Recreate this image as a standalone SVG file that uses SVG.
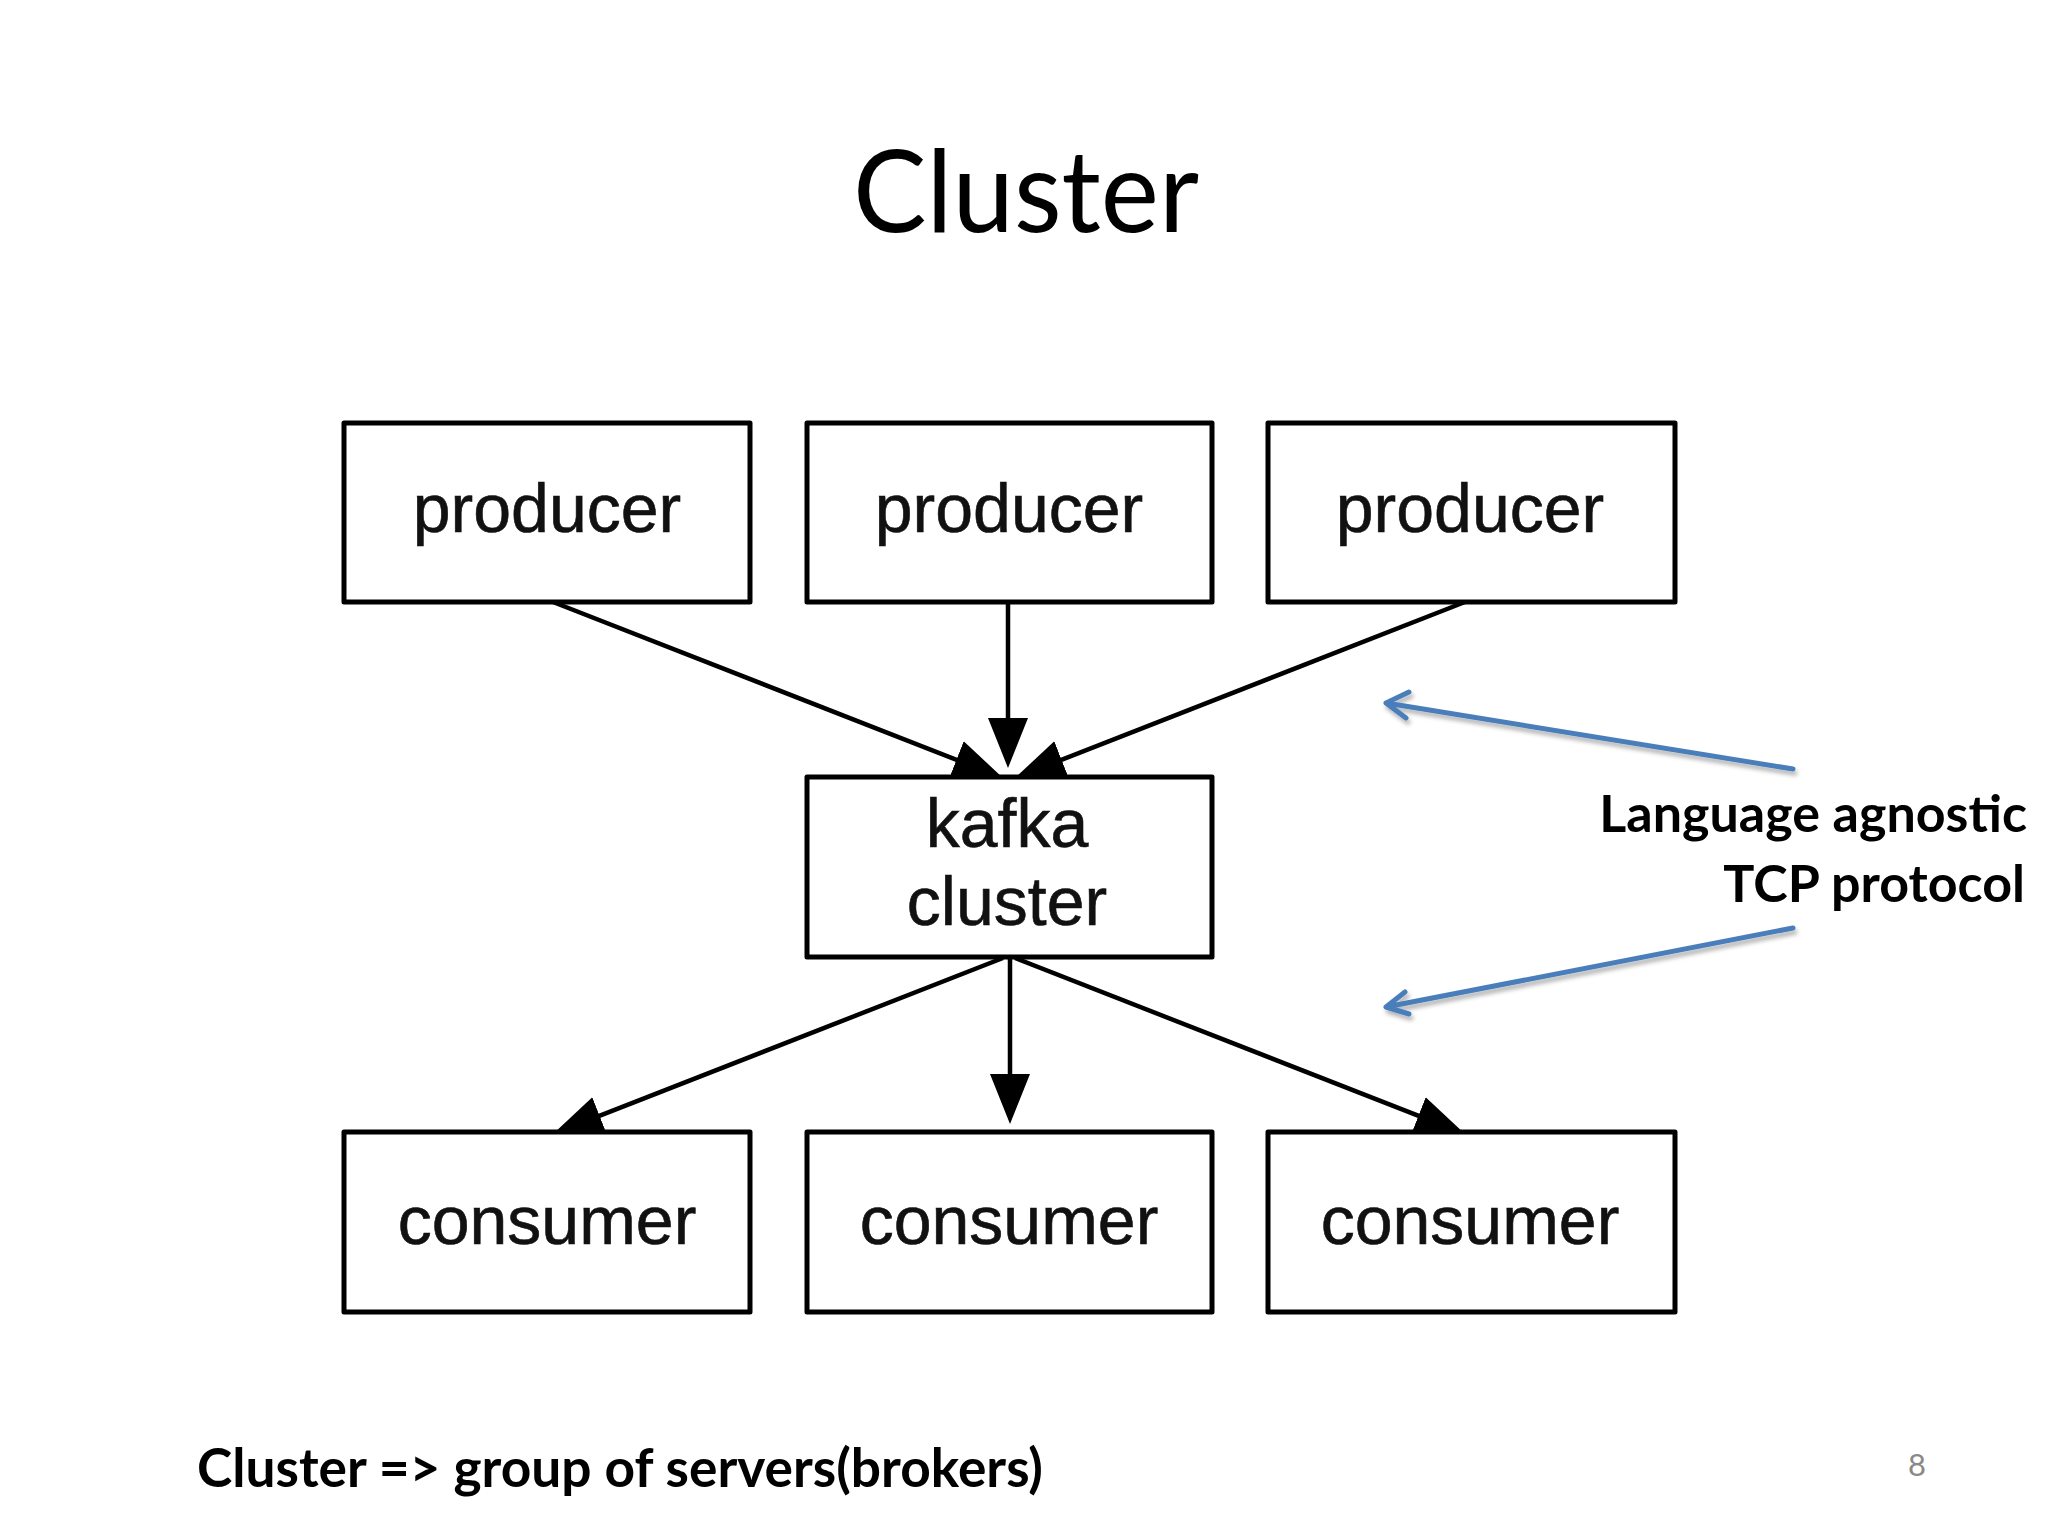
<svg xmlns="http://www.w3.org/2000/svg" width="2048" height="1536" viewBox="0 0 2048 1536">
  <defs>
    <style>
      .box { fill: #ffffff; stroke: #000000; stroke-width: 5; stroke-linejoin: round; }
      .lbl { font-family: "Liberation Sans", Arial, sans-serif; font-size: 68px; fill: #111111; stroke: #111111; stroke-width: 0.6; text-anchor: middle; }
      .conn { stroke: #000000; stroke-width: 4.5; fill: none; marker-end: url(#head); }
      .blue { stroke: #4A7EBB; stroke-width: 5; fill: none; stroke-linecap: round; stroke-linejoin: round; filter: url(#shadow); }
      .cal { font-family: Lato, "Open Sans", "Liberation Sans", sans-serif; fill: #000000; }
    </style>
    <marker id="head" markerUnits="userSpaceOnUse" viewBox="0 0 50 40" markerWidth="50" markerHeight="40" refX="25" refY="20" orient="auto">
      <path d="M0,0 L50,20 L0,40 z" fill="#000000"/>
    </marker>
    <filter id="shadow" x="-10%" y="-50%" width="120%" height="200%">
      <feDropShadow dx="2" dy="4" stdDeviation="2" flood-color="#000000" flood-opacity="0.3"/>
    </filter>
  </defs>
  <rect x="0" y="0" width="2048" height="1536" fill="#ffffff"/>

  <text id="title" class="cal" x="853" y="232" font-size="114" textLength="346" lengthAdjust="spacingAndGlyphs">Cluster</text>

  <g id="connectors">
    <line class="conn" x1="553" y1="602" x2="979.7" y2="768.9"/>
    <line class="conn" x1="1008" y1="602" x2="1008" y2="743"/>
    <line class="conn" x1="1465" y1="602" x2="1038.3" y2="768.9"/>
    <line class="conn" x1="1003" y1="958" x2="576.3" y2="1124.9"/>
    <line class="conn" x1="1010" y1="958" x2="1010" y2="1099"/>
    <line class="conn" x1="1015" y1="958" x2="1441.7" y2="1124.9"/>
  </g>

  <g id="producer1">
    <rect class="box" x="344" y="423" width="406" height="179"/>
    <text class="lbl" x="547" y="532">producer</text>
  </g>
  <g id="producer2">
    <rect class="box" x="807" y="423" width="405" height="179"/>
    <text class="lbl" x="1009" y="532">producer</text>
  </g>
  <g id="producer3">
    <rect class="box" x="1268" y="423" width="407" height="179"/>
    <text class="lbl" x="1470" y="532">producer</text>
  </g>
  <g id="kafka">
    <rect class="box" x="807" y="777" width="405" height="180"/>
    <text class="lbl" x="1007" y="847">kafka</text>
    <text class="lbl" x="1007" y="925">cluster</text>
  </g>
  <g id="consumer1">
    <rect class="box" x="344" y="1132" width="406" height="180"/>
    <text class="lbl" x="547" y="1244">consumer</text>
  </g>
  <g id="consumer2">
    <rect class="box" x="807" y="1132" width="405" height="180"/>
    <text class="lbl" x="1009" y="1244">consumer</text>
  </g>
  <g id="consumer3">
    <rect class="box" x="1268" y="1132" width="407" height="180"/>
    <text class="lbl" x="1470" y="1244">consumer</text>
  </g>

  <g id="annotation-arrows">
    <path class="blue" d="M1793,769 L1386,703 M1409,692 L1386,703 L1406,718"/>
    <path class="blue" d="M1793,928 L1386,1007 M1405,992 L1386,1007 L1409,1014"/>
  </g>

  <g id="annotation">
    <text class="cal" x="2027" y="832" font-size="52" font-weight="bold" text-anchor="end">Language agnostic</text>
    <text class="cal" x="2025" y="902" font-size="52" font-weight="bold" text-anchor="end">TCP protocol</text>
  </g>

  <text id="footer" class="cal" x="197" y="1487" font-size="53" font-weight="bold" textLength="846" lengthAdjust="spacingAndGlyphs">Cluster =&gt; group of servers(brokers)</text>
  <text id="page" class="cal" x="1908" y="1476" font-size="31" style="fill:#898989">8</text>
</svg>
